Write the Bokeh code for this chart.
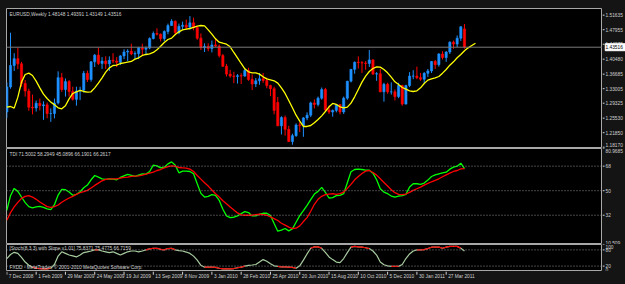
from bokeh.plotting import figure
from bokeh.models import ColumnDataSource, Span, Label, Range1d
from bokeh.core.properties import value
from bokeh.layouts import column, row
from bokeh.embed import file_html
from bokeh.resources import INLINE

# ---------------- data ----------------
date_labels = ["7 Dec 2008", "1 Feb 2009", "29 Mar 2009", "24 May 2009", "19 Jul 2009",
               "13 Sep 2009", "8 Nov 2009", "3 Jan 2010", "28 Feb 2010", "25 Apr 2010",
               "20 Jun 2010", "15 Aug 2010", "10 Oct 2010", "5 Dec 2010", "30 Jan 2011",
               "27 Mar 2011"]
date_bars = [0, 8, 16, 24, 32, 40, 48, 56, 64, 72, 80, 88, 96, 104, 112, 120]

opens = [1.2710,1.3345,1.3890,1.4060,1.3930,1.3430,1.3240,1.2830,1.2810,1.2930,
         1.2870,1.2890,1.2670,1.2670,1.2940,1.3580,1.3280,1.3480,1.3230,1.3030,
         1.3240,1.3260,1.3690,1.3530,1.3980,1.4150,1.3940,1.4000,1.3930,1.4020,
         1.4000,1.3970,1.4130,1.4230,1.4250,1.4180,1.4190,1.4340,1.4300,1.4330,
         1.4570,1.4700,1.4680,1.4570,1.4750,1.4900,1.5010,1.4720,1.4880,1.4910,
         1.4860,1.4970,1.4850,1.4580,1.4340,1.4370,1.4320,1.4410,1.4380,1.4140,
         1.3870,1.3670,1.3620,1.3610,1.3630,1.3620,1.3760,1.3530,1.3420,1.3500,
         1.3550,1.3510,1.3380,1.3300,1.2950,1.2360,1.2570,1.2270,1.1960,1.2110,
         1.2380,1.2370,1.2560,1.2630,1.2940,1.2900,1.3060,1.3280,1.2760,1.2710,
         1.2750,1.2900,1.2710,1.3060,1.3490,1.3790,1.3970,1.3960,1.3950,1.3940,
         1.4030,1.3670,1.3680,1.3220,1.3410,1.3220,1.3220,1.3100,1.3380,1.2910,
         1.3380,1.3620,1.3620,1.3580,1.3540,1.3690,1.3750,1.3990,1.3910,1.4180,
         1.4090,1.4230,1.4480,1.4430,1.4580,1.48148]
highs = [1.3460,1.4720,1.4200,1.4340,1.3980,1.3520,1.3300,1.3150,1.3000,1.3050,
         1.2980,1.2950,1.2800,1.3050,1.3740,1.3700,1.3560,1.3520,1.3350,1.3350,
         1.3350,1.3750,1.3760,1.4000,1.4180,1.4340,1.4100,1.4120,1.4120,1.4200,
         1.4100,1.4150,1.4300,1.4300,1.4440,1.4250,1.4360,1.4440,1.4370,1.4600,
         1.4750,1.4830,1.4700,1.4780,1.4950,1.5060,1.5030,1.4950,1.5000,1.5050,
         1.5140,1.5100,1.4880,1.4700,1.4450,1.4450,1.4520,1.4580,1.4420,1.4180,
         1.3930,1.3780,1.3730,1.3670,1.3690,1.3800,1.3830,1.3660,1.3570,1.3700,
         1.3700,1.3580,1.3400,1.3350,1.3090,1.2600,1.2620,1.2360,1.2160,1.2420,
         1.2450,1.2580,1.2700,1.2970,1.3030,1.3100,1.3330,1.3320,1.2870,1.2770,
         1.2900,1.2900,1.3100,1.3500,1.3800,1.3990,1.4120,1.4000,1.4000,1.4280,
         1.4050,1.3720,1.3800,1.3450,1.3450,1.3460,1.3280,1.3450,1.3400,1.3400,
         1.3720,1.3770,1.3860,1.3700,1.3720,1.3800,1.4000,1.4030,1.4200,1.4250,
         1.4250,1.4500,1.4520,1.4650,1.4880,1.49391]
lows = [1.2560,1.3300,1.3750,1.3800,1.3350,1.3100,1.2740,1.2650,1.2720,1.2750,
        1.2510,1.2550,1.2460,1.2550,1.2900,1.3220,1.3100,1.3100,1.3000,1.2870,
        1.3010,1.3200,1.3470,1.3480,1.3850,1.3900,1.3800,1.3800,1.3750,1.3950,
        1.3850,1.3900,1.4050,1.4000,1.4150,1.4050,1.4050,1.4150,1.4170,1.4300,
        1.4550,1.4650,1.4500,1.4500,1.4680,1.4900,1.4670,1.4680,1.4800,1.4800,
        1.4800,1.4780,1.4540,1.4280,1.4230,1.4250,1.4220,1.4360,1.4090,1.3850,
        1.3610,1.3580,1.3440,1.3430,1.3420,1.3600,1.3500,1.3270,1.3340,1.3400,
        1.3450,1.3310,1.3110,1.2650,1.2350,1.2140,1.2110,1.1950,1.1880,1.2080,
        1.2200,1.2080,1.2500,1.2580,1.2800,1.2850,1.3020,1.2710,1.2660,1.2590,
        1.2700,1.2650,1.2660,1.3020,1.3460,1.3680,1.3810,1.3700,1.3780,1.3850,
        1.3650,1.3500,1.3210,1.2970,1.3170,1.3150,1.3000,1.3060,1.2870,1.2900,
        1.3340,1.3540,1.3540,1.3500,1.3430,1.3600,1.3700,1.3800,1.3860,1.4040,
        1.3980,1.4180,1.4310,1.4350,1.4510,1.43149]
closes = [1.3345,1.3890,1.4060,1.3930,1.3430,1.3240,1.2830,1.2810,1.2930,1.2870,
          1.2890,1.2670,1.2670,1.2940,1.3580,1.3280,1.3480,1.3230,1.3030,1.3240,
          1.3260,1.3690,1.3530,1.3980,1.4150,1.3940,1.4000,1.3930,1.4020,1.4000,
          1.3970,1.4130,1.4230,1.4250,1.4180,1.4190,1.4340,1.4300,1.4330,1.4570,
          1.4700,1.4680,1.4570,1.4750,1.4900,1.5010,1.4720,1.4880,1.4910,1.4860,
          1.4970,1.4850,1.4580,1.4340,1.4370,1.4320,1.4410,1.4380,1.4140,1.3870,
          1.3670,1.3620,1.3610,1.3630,1.3620,1.3760,1.3530,1.3420,1.3500,1.3550,
          1.3510,1.3380,1.3300,1.2750,1.2360,1.2570,1.2270,1.1960,1.2110,1.2380,
          1.2370,1.2560,1.2630,1.2940,1.2900,1.3060,1.3280,1.2760,1.2710,1.2750,
          1.2900,1.2710,1.3060,1.3490,1.3790,1.3970,1.3960,1.3950,1.3940,1.4030,
          1.3670,1.3680,1.3220,1.3410,1.3220,1.3220,1.3100,1.3380,1.2910,1.3380,
          1.3620,1.3620,1.3580,1.3540,1.3690,1.3750,1.3990,1.3910,1.4180,1.4090,
          1.4230,1.4480,1.4430,1.4580,1.4870,1.43516]

# shifted moving average (yellow), extends 3 bars past the last candle
ma_yellow = [1.2832,1.2849,1.2807,1.3086,1.3466,1.3660,1.3694,1.3635,1.3491,1.3322,
             1.3162,1.3052,1.2959,1.2891,1.2815,1.2790,1.2866,1.3043,1.3179,1.3221,
             1.3255,1.3229,1.3212,1.3221,1.3322,1.3441,1.3576,1.3719,1.3829,1.3888,
             1.3897,1.3939,1.3956,1.3973,1.3990,1.4049,1.4083,1.4142,1.4167,1.4184,
             1.4218,1.4285,1.4378,1.4471,1.4547,1.4581,1.4674,1.4742,1.4792,1.4809,
             1.4826,1.4852,1.4885,1.4902,1.4894,1.4792,1.4683,1.4564,1.4480,1.4454,
             1.4429,1.4362,1.4218,1.4083,1.3939,1.3804,1.3728,1.3702,1.3702,1.3669,
             1.3601,1.3550,1.3525,1.3500,1.3441,1.3322,1.3179,1.3001,1.2815,1.2629,
             1.2477,1.2342,1.2342,1.2367,1.2435,1.2520,1.2612,1.2722,1.2841,1.2925,
             1.2900,1.2841,1.2815,1.2832,1.2934,1.3094,1.3280,1.3466,1.3618,1.3736,
             1.3812,1.3855,1.3846,1.3787,1.3702,1.3593,1.3474,1.3407,1.3331,1.3288,
             1.3246,1.3229,1.3246,1.3322,1.3432,1.3517,1.3550,1.3576,1.3609,1.3694,
             1.3787,1.3897,1.3981,1.4083,1.4167,1.4260,1.4336,1.4395,1.4454]

tdi_green = [35.63,46.33,51.68,49.50,45.36,41.22,38.30,37.33,38.06,38.55,
             37.82,36.60,36.11,39.76,46.82,50.96,50.71,49.01,46.58,47.31,
             49.25,52.17,54.12,58.01,61.17,59.96,58.74,58.25,58.74,58.50,
             58.01,59.71,60.93,61.90,61.17,60.44,61.42,62.39,62.15,64.09,
             68.72,68.23,66.77,67.26,69.69,71.15,68.72,63.12,64.34,64.34,
             64.09,62.39,55.09,48.04,45.36,45.85,47.06,46.58,42.93,36.36,
             31.49,30.27,30.52,31.49,33.19,34.66,33.92,31.49,31.49,32.71,
             33.44,33.44,31.73,25.89,20.30,21.03,22.24,20.54,22.00,26.87,
             31.73,35.38,39.28,43.41,47.55,49.50,52.41,48.77,44.63,44.87,
             46.33,46.58,47.79,55.82,63.85,65.55,65.80,65.55,65.07,65.07,
             62.88,58.01,51.44,49.01,47.79,46.09,45.36,46.09,46.33,47.31,
             52.66,55.09,55.09,54.60,55.58,57.77,60.44,61.66,62.39,63.12,
             63.61,65.80,67.26,67.99,70.17,66.19]
tdi_red = [28.33,33.92,38.06,41.47,44.39,45.85,46.33,45.36,43.66,41.71,
           40.01,38.30,37.82,38.30,39.52,41.47,43.17,44.63,45.85,47.31,
           48.52,49.25,50.23,51.93,53.88,55.58,57.28,58.25,58.74,58.74,
           58.74,59.23,59.71,59.96,60.44,60.69,60.93,61.42,62.15,62.88,
           63.61,64.82,65.55,66.77,67.74,68.23,67.99,67.01,66.77,66.53,
           65.80,64.09,61.17,58.50,55.82,53.39,50.47,47.79,45.36,42.68,
           40.49,38.06,35.87,33.68,32.22,31.98,31.98,31.98,32.46,32.71,
           32.46,31.98,30.76,29.54,28.09,26.14,24.68,23.22,22.24,22.49,
           24.19,27.35,30.27,34.90,40.01,43.66,45.85,47.06,47.55,47.79,
           47.31,47.79,49.01,51.68,54.60,58.01,60.44,62.63,64.34,64.82,
           63.36,61.42,58.74,56.06,53.39,50.71,48.52,47.31,47.06,47.55,
           48.77,50.23,51.44,52.66,54.12,55.33,56.55,57.52,58.74,60.20,
           61.66,62.88,64.09,64.82,66.04,66.26]

stoch = [48,63,71,67,52,35,23,16,12,11,
         10,10,12,26,57,73,67,61,58,54,
         61,70,73,76,80,80,76,73,70,73,
         67,61,67,73,76,76,73,76,80,84,
         86,86,82,80,85,86,80,77,76,72,
         67,57,42,23,16,16,16,15,12,10,
         10,10,11,14,16,20,23,24,26,35,
         44,38,29,21,19,17,17,16,15,12,
         21,42,65,86,91,91,86,71,54,44,
         35,33,48,70,90,93,91,90,88,85,
         76,61,35,25,21,19,19,19,26,48,
         65,76,80,80,81,85,90,90,90,86,
         90,93,93,93,86,76]

price_ticks = [1.18170, 1.21850, 1.25530, 1.29325, 1.33005, 1.36685, 1.40480, 1.44275, 1.47955, 1.51635]
price_tick_labels = ["1.18170", "1.21850", "1.25530", "1.29325", "1.33005", "1.36685",
                     "1.40480", "1.44275", "1.47955", "1.51635"]
tdi_ticks = [10.509, 32, 50, 68, 80.9685]
tdi_tick_labels = ["10.509", "32", "50", "68", "80.9685"]
tdi_levels = [32, 50, 68]
stoch_ticks = [0, 20, 80, 100]
stoch_tick_labels = ["0", "20", "80", "100"]
stoch_levels = [20, 80]

header_main = "EURUSD,Weekly  1.48148 1.49391 1.43149 1.43516"
header_tdi = "TDI 71.5002 58.2949 45.0896 66.1901 66.2617"
header_stoch = "[Stoch(8,3,3) with Slope v1.01] 75.8371 75.4775 66.7159"
footer = "FXDD - MetaTrader, \u00a9 2001-2010 MetaQuotes Software Corp."

# ---------------- styling ----------------
BG = "#141414"
FG = "#d0d0d0"
FRAME = "#a8a8a8"
FONT = "Liberation Sans"
FS = "4.8px"
W_PANE = 602
W_AXIS = 23

n = len(closes)
xr = Range1d(-0.1, 162.7)


def pane(height, yr, top=0):
    p = figure(width=W_PANE, height=height, x_range=xr, y_range=yr,
               output_backend="svg", toolbar_location=None,
               x_axis_location=None, y_axis_location=None,
               min_border_left=6, min_border_right=0,
               min_border_top=top, min_border_bottom=0,
               background_fill_color="black", border_fill_color=BG,
               outline_line_color=FRAME, outline_line_width=1)
    p.grid.visible = False
    return p


def price_axis(height, yr, ticks, labels, top=0):
    a = figure(width=W_AXIS, height=height, x_range=Range1d(0, 1), y_range=yr,
               output_backend="svg", toolbar_location=None,
               x_axis_location=None, y_axis_location=None,
               min_border_left=0, min_border_right=0,
               min_border_top=top, min_border_bottom=0,
               background_fill_color=BG, border_fill_color=BG,
               outline_line_color=None)
    a.grid.visible = False
    span = yr.end - yr.start
    base = []
    for t in ticks:
        if t >= yr.end - 0.02 * span:
            base.append("top")
        elif t <= yr.start + 0.02 * span:
            base.append("bottom")
        else:
            base.append("middle")
    src = ColumnDataSource(dict(y=ticks, text=labels, base=base,
                                x0=[0] * len(ticks), x1=[0.09] * len(ticks)))
    a.segment(x0="x0", y0="y", x1="x1", y1="y", source=src, line_color=FG, line_width=1)
    a.text(x="x0", y="y", text="text", source=src, x_offset=3,
           text_align="left", text_baseline="base",
           text_font=value(FONT), text_font_size=value(FS), text_color=FG)
    return a


def text_label(p, x, y, txt, **kw):
    lab = Label(x=x, y=y, text=txt, text_font=FONT, text_font_size=FS,
                text_color=kw.pop("text_color", FG), **kw)
    p.add_layout(lab)
    return lab


# ---- main price pane ----
price_range = Range1d(1.1784, 1.5333)
main = pane(148, price_range, top=8)
colors = ["#1e90ff" if c >= o else "#ff0000" for o, c in zip(opens, closes)]
src = ColumnDataSource(dict(
    x=list(range(n)), o=opens, h=highs, l=lows, c=closes,
    top=[max(o, c) for o, c in zip(opens, closes)],
    bottom=[min(o, c) for o, c in zip(opens, closes)],
    color=colors))
main.segment(x0="x", y0="l", x1="x", y1="h", source=src, line_color="color", line_width=1)
main.vbar(x="x", width=0.6, top="top", bottom="bottom", source=src,
          fill_color="color", line_color="color", line_width=0.6)
main.add_layout(Span(location=closes[-1], dimension="width", line_color="#7a7a7a", line_width=1))
main.line(list(range(len(ma_yellow))), ma_yellow, line_color="#ffff00", line_width=1.3)
text_label(main, xr.start, price_range.end, header_main, x_offset=3, y_offset=-3, text_baseline="top")

main_ax = price_axis(148, price_range, price_ticks, price_tick_labels, top=8)
# current price marker box on the price scale
main_ax.rect(x=[0.55], y=[closes[-1]], width=0.86, height=7, height_units="screen",
             fill_color="white", line_color="white")
main_ax.text(x=[0], y=[closes[-1]], text=["%.5f" % closes[-1]], x_offset=3,
             text_align="left", text_baseline="middle",
             text_font=value(FONT), text_font_size=value(FS), text_color="black")

# ---- TDI pane ----
tdi_range = Range1d(10.509, 80.9685)
tdi = pane(96, tdi_range)
for lv in tdi_levels:
    tdi.add_layout(Span(location=lv, dimension="width", line_color="#8c8c8c",
                        line_width=1, line_dash="1 2"))
xs = list(range(len(tdi_green)))
tdi.line(xs, tdi_green, line_color="#00ff00", line_width=1.3)
tdi.line(xs, tdi_red, line_color="#ff0000", line_width=1.3)
text_label(tdi, xr.start, tdi_range.end, header_tdi, x_offset=3, y_offset=-3, text_baseline="top")
tdi_ax = price_axis(96, tdi_range, tdi_ticks, tdi_tick_labels)

# ---- Stochastic pane ----
st_range = Range1d(0, 100)
st = pane(27, st_range)
for lv in stoch_levels:
    st.add_layout(Span(location=lv, dimension="width", line_color="#8c8c8c",
                       line_width=1, line_dash="1 2"))
sx = list(range(len(stoch)))
st.line(sx, stoch, line_color="#a8cca0", line_width=1.2)
seg_x0, seg_y0, seg_x1, seg_y1 = [], [], [], []
for i in range(len(stoch) - 1):
    a, b = stoch[i], stoch[i + 1]
    if (a >= 80 and b >= 80) or (a <= 20 and b <= 20):
        seg_x0.append(i); seg_y0.append(a); seg_x1.append(i + 1); seg_y1.append(b)
st.segment(seg_x0, seg_y0, seg_x1, seg_y1, line_color="#ff0000", line_width=1.2)
text_label(st, xr.start, st_range.end, header_stoch, x_offset=3, y_offset=-1, text_baseline="top")
text_label(st, xr.start, st_range.start, footer, x_offset=3, y_offset=2, text_baseline="bottom")
st_ax = price_axis(27, st_range, stoch_ticks, stoch_tick_labels)

# ---- date scale ----
dates = figure(width=W_PANE + W_AXIS, height=13, x_range=xr, y_range=Range1d(0, 1),
               output_backend="svg", toolbar_location=None,
               x_axis_location=None, y_axis_location=None,
               min_border_left=6, min_border_right=W_AXIS,
               min_border_top=0, min_border_bottom=0,
               background_fill_color=BG, border_fill_color=BG, outline_line_color=None)
dates.grid.visible = False
dsrc = ColumnDataSource(dict(x=date_bars, text=date_labels,
                             y0=[1] * len(date_bars), y1=[0.75] * len(date_bars)))
dates.segment(x0="x", y0="y0", x1="x", y1="y1", source=dsrc, line_color=FG, line_width=1)
dates.text(x="x", y="y0", text="text", source=dsrc, x_offset=2, y_offset=2,
           text_align="left", text_baseline="top",
           text_font=value(FONT), text_font_size=value(FS), text_color=FG)

layout = column(row(main, main_ax, spacing=0),
                row(tdi, tdi_ax, spacing=0),
                row(st, st_ax, spacing=0),
                dates, spacing=0, background=BG)
open("out.html", "w").write(file_html(layout, INLINE))
